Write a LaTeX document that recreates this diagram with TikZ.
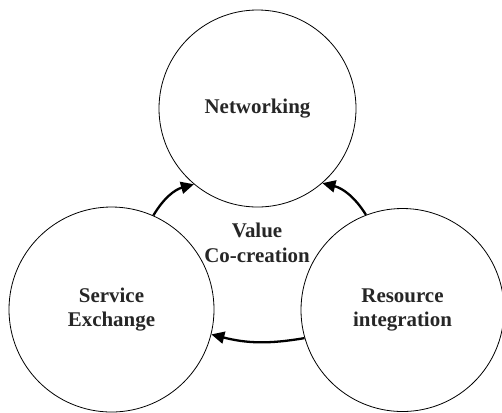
\documentclass[tikz,border=0pt]{standalone}
\usepackage{fontspec}
\setmainfont{Liberation Serif}
\usetikzlibrary{arrows.meta}
\begin{document}
\begin{tikzpicture}[x=1bp,y=-1bp,
  bubble/.style={draw, circle, line width=0.8bp, inner sep=0pt, align=center,
    font=\fontsize{21}{24}\selectfont\bfseries, text=black!85},
  flow/.style={line width=2.3bp, -{Triangle[length=13bp,width=12bp]}},
  lbl/.style={align=center, font=\fontsize{21}{25}\selectfont\bfseries, text=black!85}]
\useasboundingbox (0,0) rectangle (502,412);
\node[bubble, minimum size=197bp] (net) at (257.5,108.5) {Networking};
\node[bubble, minimum size=205bp] (se) at (111.5,309.5) {Service\\Exchange};
\node[bubble, minimum size=203bp] (ri) at (402.5,310) {Resource\\integration};
\node[lbl] (vc) at (257,243) {Value\\Co-creation};
\draw[flow] (se.66) to[bend left=22] (net.230);
\draw[flow] (ri.111) to[bend right=22] (net.311);
\draw[flow] (ri.196) to[bend left=12] (se.346);
\end{tikzpicture}
\end{document}
